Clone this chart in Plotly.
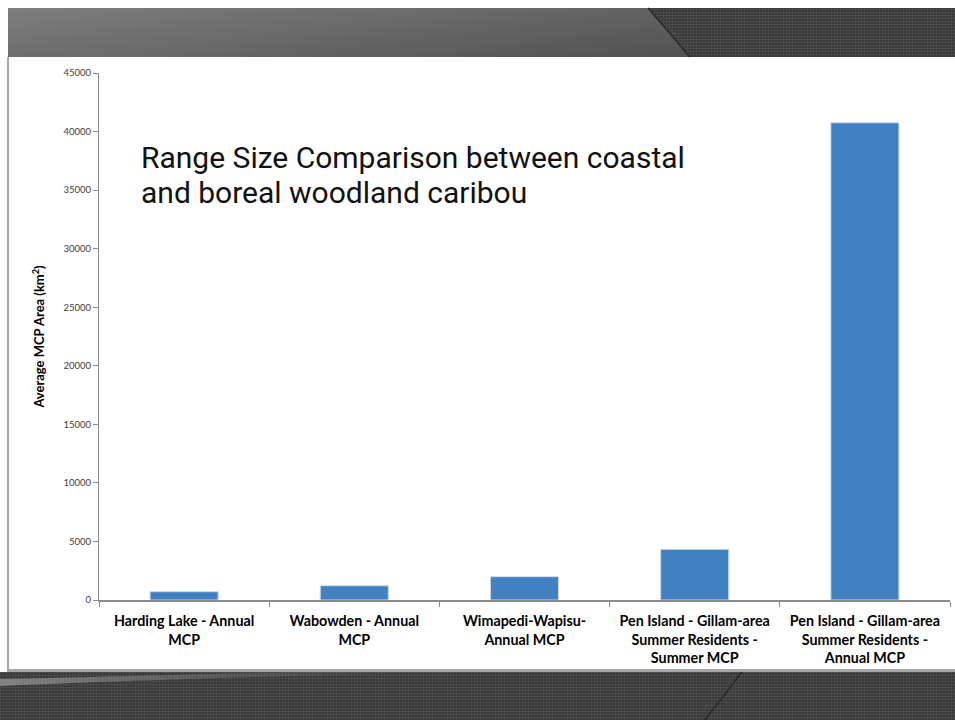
import base64
import plotly.graph_objects as go

# Average minimum convex polygon (MCP) range sizes, km²
categories = [
    "Harding Lake - Annual<br>MCP",
    "Wabowden - Annual<br>MCP",
    "Wimapedi-Wapisu-<br>Annual MCP",
    "Pen Island - Gillam-area<br>Summer Residents -<br>Summer MCP",
    "Pen Island - Gillam-area<br>Summer Residents -<br>Annual MCP",
]
mcp_area = [710, 1220, 1990, 4330, 40750]
y_ticks = [0, 5000, 10000, 15000, 20000, 25000, 30000, 35000, 40000, 45000]
title_lines = ["Range Size Comparison between coastal", "and boreal woodland caribou"]

W, H = 955, 720
M_L, M_R, M_T, M_B = 99, 5, 73, 120
PW = W - M_L - M_R
PH = H - M_T - M_B

# Slide decoration: gradient header band, textured footer band, panel border
svg = f"""<svg xmlns='http://www.w3.org/2000/svg' width='{W}' height='{H}' viewBox='0 0 {W} {H}'>
<defs>
<linearGradient id='hg' x1='0' y1='0' x2='1' y2='0.4'>
<stop offset='0' stop-color='#7e7e7e'/><stop offset='1' stop-color='#505050'/>
</linearGradient>
<pattern id='tx' width='3' height='3' patternUnits='userSpaceOnUse'>
<rect width='3' height='3' fill='#383838'/><rect width='1' height='3' fill='#4a4a4a'/><rect width='3' height='1' fill='#4a4a4a'/>
</pattern>
<linearGradient id='sw' x1='0' y1='0' x2='1' y2='0'>
<stop offset='0' stop-color='#8a8a8a' stop-opacity='0.9'/><stop offset='1' stop-color='#5a5a5a' stop-opacity='0'/>
</linearGradient>
</defs>
<rect x='8' y='8' width='{W-8}' height='49' fill='url(#hg)'/>
<polygon points='648,8 {W},8 {W},57 690,57' fill='url(#tx)'/>
<line x1='648' y1='8' x2='690' y2='57' stroke='#2a2a2a' stroke-width='1.5'/>
<rect x='7' y='57' width='2' height='615' fill='#a6a6a6'/>
<rect x='7' y='669' width='{W-7}' height='3' fill='#a6a6a6'/>
<rect x='0' y='672' width='{W}' height='48' fill='url(#tx)'/>
<path d='M0,686 C120,681 260,676 480,672 L300,672 C200,674 100,677 0,679 Z' fill='url(#sw)'/>
<line x1='742' y1='672' x2='705' y2='720' stroke='#2a2a2a' stroke-width='1.5'/>
</svg>"""
svg_uri = "data:image/svg+xml;base64," + base64.b64encode(svg.encode()).decode()

fig = go.Figure()
fig.add_trace(go.Bar(
    x=categories,
    y=mcp_area,
    marker=dict(color="#4181c2", line=dict(color="#cbdaea", width=1)),
    width=0.4,
    hoverinfo="x+y",
))

title_font = dict(family="Roboto, 'Liberation Sans', sans-serif", size=30, color="#111111")
annotations = []
for i, line in enumerate(title_lines):
    top_px = 138 + i * 35
    annotations.append(dict(
        text=line,
        xref="paper", yref="paper",
        x=(139 - M_L) / PW, y=(M_T + PH - top_px) / PH,
        xanchor="left", yanchor="top", align="left",
        showarrow=False,
        font=title_font,
    ))

fig.update_layout(
    width=W,
    height=H,
    margin=dict(l=M_L, r=M_R, t=M_T, b=M_B, pad=0),
    paper_bgcolor="white",
    plot_bgcolor="rgba(0,0,0,0)",
    showlegend=False,
    font=dict(family="Lato, 'DejaVu Sans', sans-serif", color="#000000"),
    images=[dict(
        source=svg_uri,
        xref="paper", yref="paper",
        x=-M_L / PW, y=(PH + M_T) / PH,
        sizex=W / PW, sizey=H / PH,
        xanchor="left", yanchor="top",
        sizing="stretch", layer="below",
    )],
    annotations=annotations,
)

fig.update_xaxes(
    type="category",
    showline=True, linecolor="#8c8c8c", linewidth=1.5,
    ticks="outside", tickson="boundaries", ticklen=5, tickcolor="#8c8c8c",
    showgrid=False,
    ticklabelstandoff=7,
    tickfont=dict(family="Lato, sans-serif", size=14.3, color="#000000", weight="bold"),
)
fig.update_yaxes(
    range=[0, 45000],
    tickvals=y_ticks,
    ticktext=[str(v) for v in y_ticks],
    showline=True, linecolor="#8c8c8c", linewidth=1,
    ticks="outside", ticklen=5, tickcolor="#8c8c8c",
    showgrid=False, zeroline=False,
    tickfont=dict(family="Lato, sans-serif", size=9.5, color="#404040"),
    title=dict(
        text="Average MCP Area (km<sup>2</sup>)",
        font=dict(family="Lato, sans-serif", size=13, color="#000000", weight="bold"),
        standoff=15,
    ),
)

fig.write_html("out.html")
